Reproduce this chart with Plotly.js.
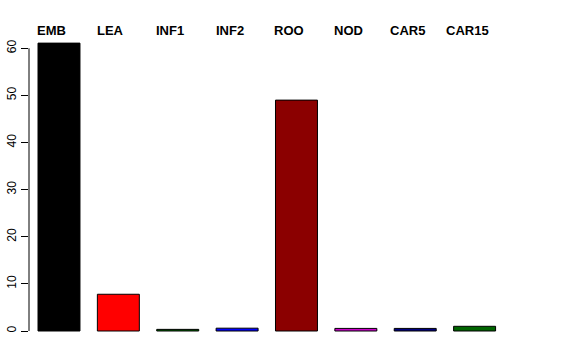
<!DOCTYPE html>
<html><head><meta charset="utf-8">
<script src="https://cdn.plot.ly/plotly-3.0.1.min.js"></script>
<style>html,body{margin:0;padding:0;background:#fff}#chart{width:576px;height:360px}</style>
</head><body><div id="chart"></div>
<script>
const categories = ["EMB","LEA","INF1","INF2","ROO","NOD","CAR5","CAR15"];
const values = [61.1, 7.8, 0.35, 0.6, 49.0, 0.55, 0.55, 1.0];
const colors = ["#000000","#FF0000","#006400","#0000FF","#8B0000","#CD00CD","#000080","#006400"];
const yTicks = [0,10,20,30,40,50,60];

const font = {family: "Liberation Sans, Arial, sans-serif", size: 12, color: "#000"};

const trace = {
  type: "bar",
  x: categories,
  y: values,
  marker: {color: colors, line: {color: "#000", width: 1}},
  hoverinfo: "none"
};

const annotations = categories.map(c => ({
  x: c, xref: "x", y: 1.003, yref: "paper",
  text: "<b>" + c + "</b>", showarrow: false,
  xanchor: "center", yanchor: "middle", xshift: -7.5,
  font: {family: font.family, size: 13, color: "#000"}
}));

const layout = {
  width: 576, height: 360,
  margin: {l: 29, r: 64, t: 31, b: 19, pad: 0},
  paper_bgcolor: "#fff", plot_bgcolor: "#fff",
  showlegend: false,
  bargap: 0.293,
  font: font,
  xaxis: {range: [-0.505, 7.63], showticklabels: false, showgrid: false,
          zeroline: false, showline: false, ticks: ""},
  yaxis: {range: [-2.12, 63.67], tickvals: yTicks, ticktext: yTicks.map(String),
          ticks: "outside", ticklen: 7, tickcolor: "#000", tickwidth: 1,
          tickangle: -90, showgrid: false, zeroline: false, showline: false,
          tickfont: {family: font.family, size: 12, color: "#000"}},
  shapes: [{type: "line", xref: "paper", x0: 0, x1: 0, yref: "y",
            y0: yTicks[0], y1: yTicks[yTicks.length-1],
            line: {color: "#000", width: 1}}],
  annotations: annotations
};

Plotly.newPlot("chart", [trace], layout, {displayModeBar: false, staticPlot: true});
</script></body></html>
